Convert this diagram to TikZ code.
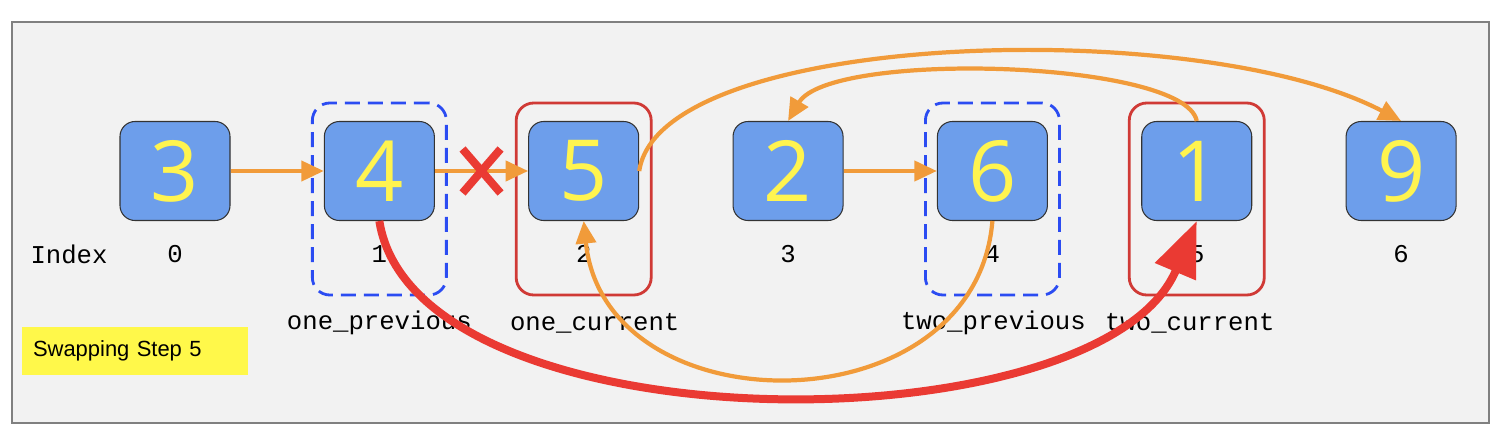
\documentclass[tikz,border=0pt]{standalone}
\usepackage{fontspec}
\usepackage{tikz}
\usetikzlibrary{positioning}
\usetikzlibrary{arrows.meta}
\usetikzlibrary{shapes.misc}
\usepackage{xcolor}
\setmainfont{Liberation Sans}
\setmonofont{Liberation Mono}
\newfontfamily\digitfont{Open Sans}
\definecolor{boxblue}{HTML}{6D9EEB}
\definecolor{digityellow}{HTML}{FFF44F}
\definecolor{linkorange}{HTML}{F19B3A}
\definecolor{swapred}{HTML}{EA3A33}
\definecolor{curred}{HTML}{D03A36}
\definecolor{prevblue}{HTML}{2B4CF2}
\definecolor{notegold}{HTML}{FFF84A}
\begin{document}
\begin{tikzpicture}[node distance=4.087cm,
	numbox/.style={draw=black!80, line width=0.6pt, fill=boxblue, rounded corners=0.3cm, minimum width=2.2cm, minimum height=1.98cm, text=digityellow, font=\digitfont\fontsize{48}{48}\selectfont},
	idx/.style={font=\ttfamily\fontsize{14.6}{16}\selectfont},
	prevbox/.style={draw=prevblue, line width=1.6pt, dash pattern=on 0.3cm off 0.16cm, rounded corners=0.35cm, minimum width=2.68cm, minimum height=3.84cm},
	curbox/.style={draw=curred, line width=1.6pt, rounded corners=0.35cm, minimum width=2.7cm, minimum height=3.84cm},
	link/.style={draw=linkorange, line width=2.4pt, -{Triangle[length=0.45cm,width=0.4cm]}},
	swap/.style={draw=swapred, line width=0.16cm, -{Triangle[length=1.1cm,width=0.85cm]}}]
	\useasboundingbox (0,0) rectangle (29.84,-8.66);
	\draw[fill=black!5, draw=black!50, line width=0.8pt] (0.24,-0.44) rectangle (29.78,-8.46);

	\node[numbox] (n3) at (3.5,-3.42) {3};
	\node[numbox] (n4) [right of=n3] {4};
	\node[numbox] (n5) [right of=n4] {5};
	\node[numbox] (n2) [right of=n5] {2};
	\node[numbox] (n6) [right of=n2] {6};
	\node[numbox] (n1) [right of=n6] {1};
	\node[numbox] (n9) [right of=n1] {9};

	\node[idx] (i0) [below of=n3, node distance=1.66cm] {0};
	\node[idx] (i1) [below of=n4, node distance=1.66cm] {1};
	\node[idx] (i2) [below of=n5, node distance=1.66cm] {2};
	\node[idx] (i3) [below of=n2, node distance=1.66cm] {3};
	\node[idx] (i4) [below of=n6, node distance=1.66cm] {4};
	\node[idx] (i5) [below of=n1, node distance=1.66cm] {5};
	\node[idx] (i6) [below of=n9, node distance=1.66cm] {6};
	\node[idx] (index) [left of=i0, node distance=2.12cm] {Index};

	\node[prevbox] (p1) [below of=n4, node distance=0.56cm] {};
	\node[curbox] (c1) [below of=n5, node distance=0.56cm] {};
	\node[prevbox] (p2) [below of=n6, node distance=0.56cm] {};
	\node[curbox] (c2) [below of=n1, node distance=0.56cm] {};

	\node[idx] (onep) [below of=p1, node distance=2.48cm] {one\_previous};
	\node[idx] (onec) [below of=c1, node distance=2.48cm, xshift=0.22cm] {one\_current};
	\node[idx] (twop) [below of=p2, node distance=2.48cm, xshift=0.02cm] {two\_previous};
	\node[idx] (twoc) [below of=c2, node distance=2.48cm, xshift=-0.14cm] {two\_current};

	\node[fill=notegold, minimum width=4.52cm, minimum height=0.96cm, inner xsep=0.22cm, text width=4.08cm, align=left, font=\fontsize{12.5}{14}\selectfont] (step) at (2.7,-7.02) {Swapping Step 5};

	\draw[link] (n3) -- (n4);
	\draw[link] (n4) -- (n5);
	\draw[link] (n2) -- (n6);
	\path (n4.east) -- node[cross out, draw=swapred, line width=0.16cm, minimum width=0.6cm, minimum height=0.72cm, inner sep=0pt] (cut) {} (n5.west);
	\draw[link] (n5.east) .. controls (13.2,-0.6) and (24.0,-0.3) .. (n9.north);
	\draw[link] (n1.north) .. controls (23.7,-1.2) and (16.6,-1.0) .. (n2.north);
	\draw[link] (n6.south) .. controls (19.5,-8.6) and (12.1,-8.6) .. (n5.south);
	\draw[swap] (n4.south) .. controls (8.3,-9.0) and (22.0,-9.0) .. (n1.south);
\end{tikzpicture}
\end{document}
